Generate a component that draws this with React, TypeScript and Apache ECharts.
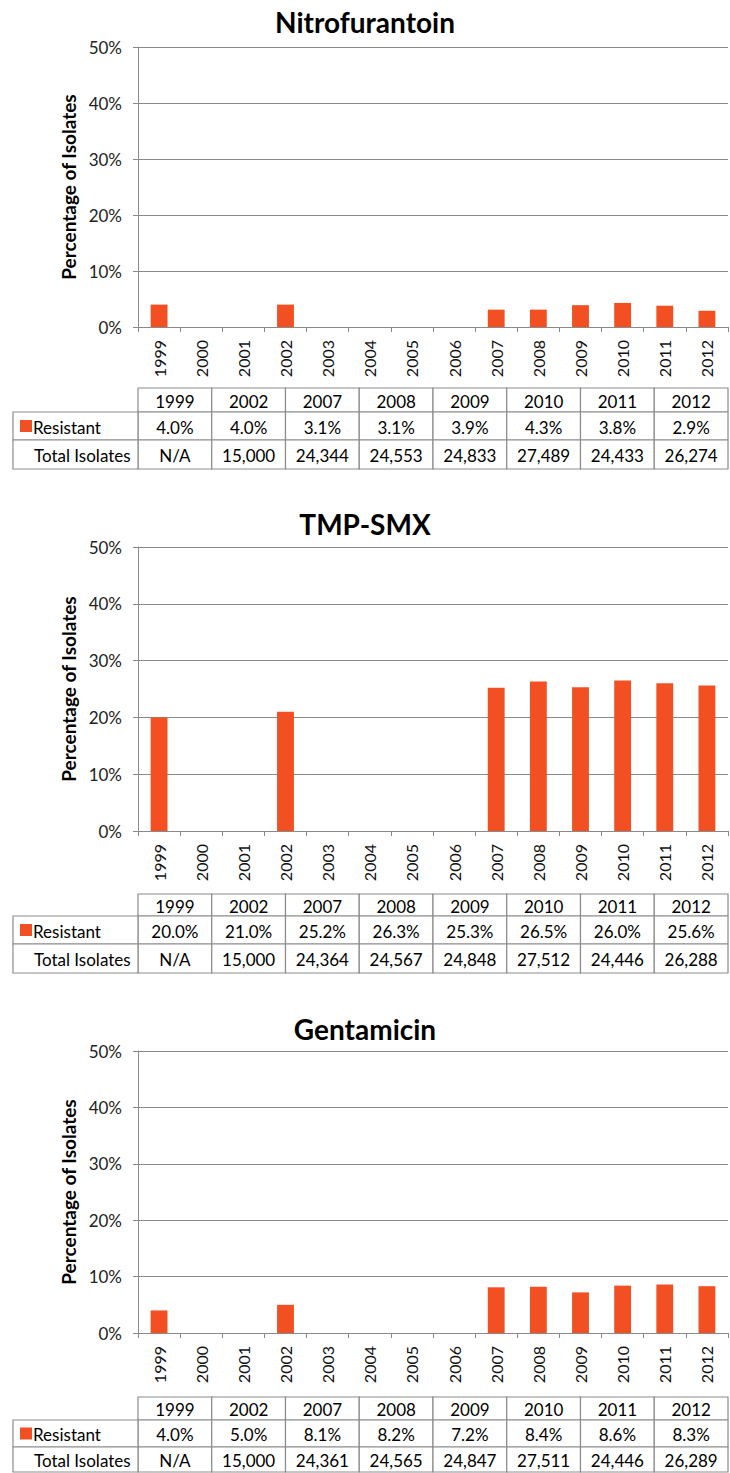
import React, { useEffect, useRef } from "react";
import * as echarts from "echarts";

const years = ["1999", "2000", "2001", "2002", "2003", "2004", "2005", "2006", "2007", "2008", "2009", "2010", "2011", "2012"];
const tableYears = ["1999", "2002", "2007", "2008", "2009", "2010", "2011", "2012"];

const nitroResistant = [4.0, 4.0, 3.1, 3.1, 3.9, 4.3, 3.8, 2.9];
const nitroTotals = ["N/A", "15,000", "24,344", "24,553", "24,833", "27,489", "24,433", "26,274"];

const tmpResistant = [20.0, 21.0, 25.2, 26.3, 25.3, 26.5, 26.0, 25.6];
const tmpTotals = ["N/A", "15,000", "24,364", "24,567", "24,848", "27,512", "24,446", "26,288"];

const gentResistant = [4.0, 5.0, 8.1, 8.2, 7.2, 8.4, 8.6, 8.3];
const gentTotals = ["N/A", "15,000", "24,361", "24,565", "24,847", "27,511", "24,446", "26,289"];

const yTicks = [0, 10, 20, 30, 40, 50];

const panelTitles = ["Nitrofurantoin", "TMP-SMX", "Gentamicin"];
const panelResistant = [nitroResistant, tmpResistant, gentResistant];
const panelTotals = [nitroTotals, tmpTotals, gentTotals];

const BAR = "#F25022";
const AXIS = "#8A8A8A";
const FONT = "Lato, 'Open Sans', sans-serif";

// layout (positions only)
const layouts = [
  { titleY: 22, top: 47, bottom: 327, rows: [388, 412, 440, 469] },
  { titleY: 524, top: 547, bottom: 831, rows: [894, 916, 944, 973] },
  { titleY: 1029, top: 1051, bottom: 1333, rows: [1397, 1420, 1447, 1472] },
];
const GRID_LEFT = 138;
const GRID_WIDTH = 590;
const TABLE_LEFT = 13;

export default function App() {
  const ref = useRef<HTMLDivElement>(null);
  useEffect(() => {
    document.body.style.margin = "0";
    if (!ref.current) return;
    const chart = echarts.init(ref.current, null, { renderer: "svg" });

    const grids: any[] = [];
    const xAxes: any[] = [];
    const yAxes: any[] = [];
    const series: any[] = [];
    const titles: any[] = [];
    const graphics: any[] = [];

    layouts.forEach((L, i) => {
      grids.push({ left: GRID_LEFT, width: GRID_WIDTH, top: L.top, height: L.bottom - L.top });
      xAxes.push({
        type: "category",
        gridIndex: i,
        data: years,
        boundaryGap: true,
        axisLine: { lineStyle: { color: AXIS, width: 1 } },
        axisTick: { show: true, length: 5, lineStyle: { color: AXIS } },
        axisLabel: { interval: 0, rotate: 90, margin: 13, fontSize: 16, color: "#111", fontFamily: FONT },
      });
      yAxes.push({
        type: "value",
        gridIndex: i,
        min: yTicks[0],
        max: yTicks[yTicks.length - 1],
        interval: yTicks[1] - yTicks[0],
        name: "Percentage of Isolates",
        nameLocation: "middle",
        nameGap: 58,
        nameTextStyle: { fontSize: 19, fontWeight: "bold", color: "#000", fontFamily: FONT },
        axisLine: { show: true, lineStyle: { color: AXIS, width: 1 } },
        axisTick: { show: true, length: 5, lineStyle: { color: AXIS } },
        axisLabel: { formatter: "{value}%", fontSize: 17, color: "#222", margin: 16, fontFamily: FONT },
        splitLine: { show: true, lineStyle: { color: AXIS, width: 1 } },
      });
      const vals = panelResistant[i];
      series.push({
        type: "bar",
        name: "Resistant",
        xAxisIndex: i,
        yAxisIndex: i,
        barWidth: "40%",
        itemStyle: { color: BAR },
        data: years.map((y) => {
          const k = tableYears.indexOf(y);
          return k >= 0 ? vals[k] : null;
        }),
      });
      titles.push({
        text: panelTitles[i],
        left: "center",
        top: L.titleY - 17,
        padding: 0,
        textStyle: { fontSize: 28, fontWeight: "bold", color: "#000", fontFamily: FONT, lineHeight: 34 },
      });

      // table
      const colW = GRID_WIDTH / tableYears.length;
      const [r0, r1, r2, r3] = L.rows;
      const cellStroke = { stroke: "#8C8C8C", lineWidth: 1.2, fill: "#fff" };
      const cellText = (x: number, y: number, text: string, align = "center") => ({
        type: "text",
        x,
        y,
        style: { text, fill: "#000", fontSize: 17, fontFamily: FONT, align, verticalAlign: "middle" },
      });
      tableYears.forEach((yr, c) => {
        const x = GRID_LEFT + c * colW;
        graphics.push({ type: "rect", shape: { x, y: r0, width: colW, height: r1 - r0 }, style: cellStroke });
        graphics.push({ type: "rect", shape: { x, y: r1, width: colW, height: r2 - r1 }, style: cellStroke });
        graphics.push({ type: "rect", shape: { x, y: r2, width: colW, height: r3 - r2 }, style: cellStroke });
      });
      graphics.push({ type: "rect", shape: { x: TABLE_LEFT, y: r1, width: GRID_LEFT - TABLE_LEFT, height: r2 - r1 }, style: cellStroke });
      graphics.push({ type: "rect", shape: { x: TABLE_LEFT, y: r2, width: GRID_LEFT - TABLE_LEFT, height: r3 - r2 }, style: cellStroke });
      tableYears.forEach((yr, c) => {
        const cx = GRID_LEFT + c * colW + colW / 2;
        graphics.push(cellText(cx, (r0 + r1) / 2 + 1, yr));
        graphics.push(cellText(cx, (r1 + r2) / 2 + 1, vals[c].toFixed(1) + "%"));
        graphics.push(cellText(cx, (r2 + r3) / 2 + 1, panelTotals[i][c]));
      });
      graphics.push({ type: "rect", shape: { x: 20, y: (r1 + r2) / 2 - 6, width: 12, height: 12 }, style: { fill: BAR } });
      graphics.push(cellText(33, (r1 + r2) / 2 + 1, "Resistant", "left"));
      graphics.push(cellText(34, (r2 + r3) / 2 + 1, "Total Isolates", "left"));
    });

    chart.setOption({
      animation: false,
      backgroundColor: "#fff",
      title: titles,
      grid: grids,
      xAxis: xAxes,
      yAxis: yAxes,
      series,
      graphic: { elements: graphics },
    });
    return () => chart.dispose();
  }, []);
  return <div ref={ref} style={{ width: 730, height: 1473 }} />;
}
